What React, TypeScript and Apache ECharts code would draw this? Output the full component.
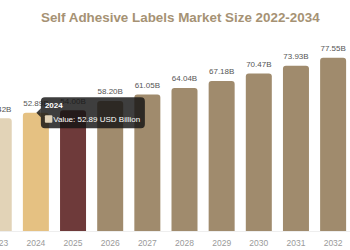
import React, { useEffect, useRef } from "react";
import * as echarts from "echarts";

const years = ["2022", "2023", "2024", "2025", "2026", "2027", "2028", "2029", "2030", "2031", "2032", "2033", "2034"];
const marketSize = [48.07, 50.42, 52.89, 54.0, 58.2, 61.05, 64.04, 67.18, 70.47, 73.93, 77.55, 81.35, 85.34];
const barColors = ["#d9c7a6", "#e2d3b7", "#e5c182", "#6e3a3a", "#a08b6d", "#a08b6d", "#a08b6d", "#a08b6d", "#a08b6d", "#a08b6d", "#a08b6d", "#a08b6d", "#a08b6d"];
const highlightYear = "2024";
const unitText = "USD Billion";

const FONT = 'Arial, "Liberation Sans", sans-serif';
// the plot is wider than the visible window; it is shifted left
const SHIFT = 56.8;
const FULL_W = 482.6;
const TIP_Z = 100;

export default function App() {
  const ref = useRef<HTMLDivElement>(null);

  useEffect(() => {
    if (!ref.current) return;
    const chart = echarts.init(ref.current, null, { renderer: "svg" });
    chart.setOption({
      animation: false,
      title: {
        text: "Self Adhesive Labels Market Size 2022-2034",
        left: 175.5 + SHIFT,
        textAlign: "center",
        top: 6,
        textStyle: { fontFamily: FONT, fontSize: 13.4, fontWeight: "bold", color: "#a69274" },
      },
      grid: { left: 0, right: 0, top: 29.9, bottom: 19 },
      xAxis: {
        type: "category",
        data: years,
        axisLine: { lineStyle: { color: "#eeeeee" } },
        axisTick: { show: false },
        axisLabel: { fontFamily: FONT, fontSize: 8.5, color: "#9a9a9a", margin: 7 },
      },
      yAxis: { type: "value", min: 0, max: 90, show: false, splitLine: { show: false } },
      series: [
        {
          type: "bar",
          barWidth: 26,
          data: marketSize.map((v, i) => ({
            value: v,
            itemStyle: { color: barColors[i], borderRadius: [3, 3, 0, 0] },
          })),
          label: {
            show: true,
            position: "top",
            distance: 5,
            fontFamily: FONT,
            fontSize: 8,
            color: "#555555",
            formatter: (p: any) => `${Number(p.value).toFixed(2)}B`,
          },
        },
      ],
    });

    // hover box for the highlighted year, anchored at the top of its bar
    const idx = years.indexOf(highlightYear);
    const pt = chart.convertToPixel({ seriesIndex: 0 }, [idx, marketSize[idx]]) as number[];
    const bx = pt[0] + 5;
    const by = pt[1] - 15.5;
    const tipFill = "rgba(20,20,20,0.82)";
    chart.setOption({
      graphic: {
        z: TIP_Z,
        elements: [
          {
            type: "polygon",
            z: TIP_Z,
            shape: { points: [[bx, pt[1] - 4.5], [bx - 4.5, pt[1]], [bx, pt[1] + 4.5]] },
            style: { fill: tipFill },
          },
          {
            type: "rect",
            z: TIP_Z,
            shape: { x: bx, y: by, width: 104, height: 31, r: 4 },
            style: { fill: tipFill },
          },
          {
            type: "text",
            z: TIP_Z + 1,
            x: bx + 4,
            y: by + 8,
            style: { text: highlightYear, fill: "#ffffff", font: `bold 8px ${FONT}`, textVerticalAlign: "middle" },
          },
          {
            type: "rect",
            z: TIP_Z + 1,
            shape: { x: bx + 4, y: by + 18, width: 7.5, height: 7.5, r: 1 },
            style: { fill: "#e2d3b7" },
          },
          {
            type: "text",
            z: TIP_Z + 1,
            x: bx + 12.3,
            y: by + 21.7,
            style: {
              text: `Value: ${marketSize[idx].toFixed(2)} ${unitText}`,
              fill: "#ffffff",
              font: `8px ${FONT}`,
              textVerticalAlign: "middle",
            },
          },
        ],
      },
    });

    return () => chart.dispose();
  }, []);

  return (
    <div style={{ position: "fixed", left: 0, top: 0, width: 350, height: 250, overflow: "hidden", background: "#fff" }}>
      <div ref={ref} style={{ position: "absolute", left: -SHIFT, top: 0, width: FULL_W, height: 250 }} />
    </div>
  );
}
